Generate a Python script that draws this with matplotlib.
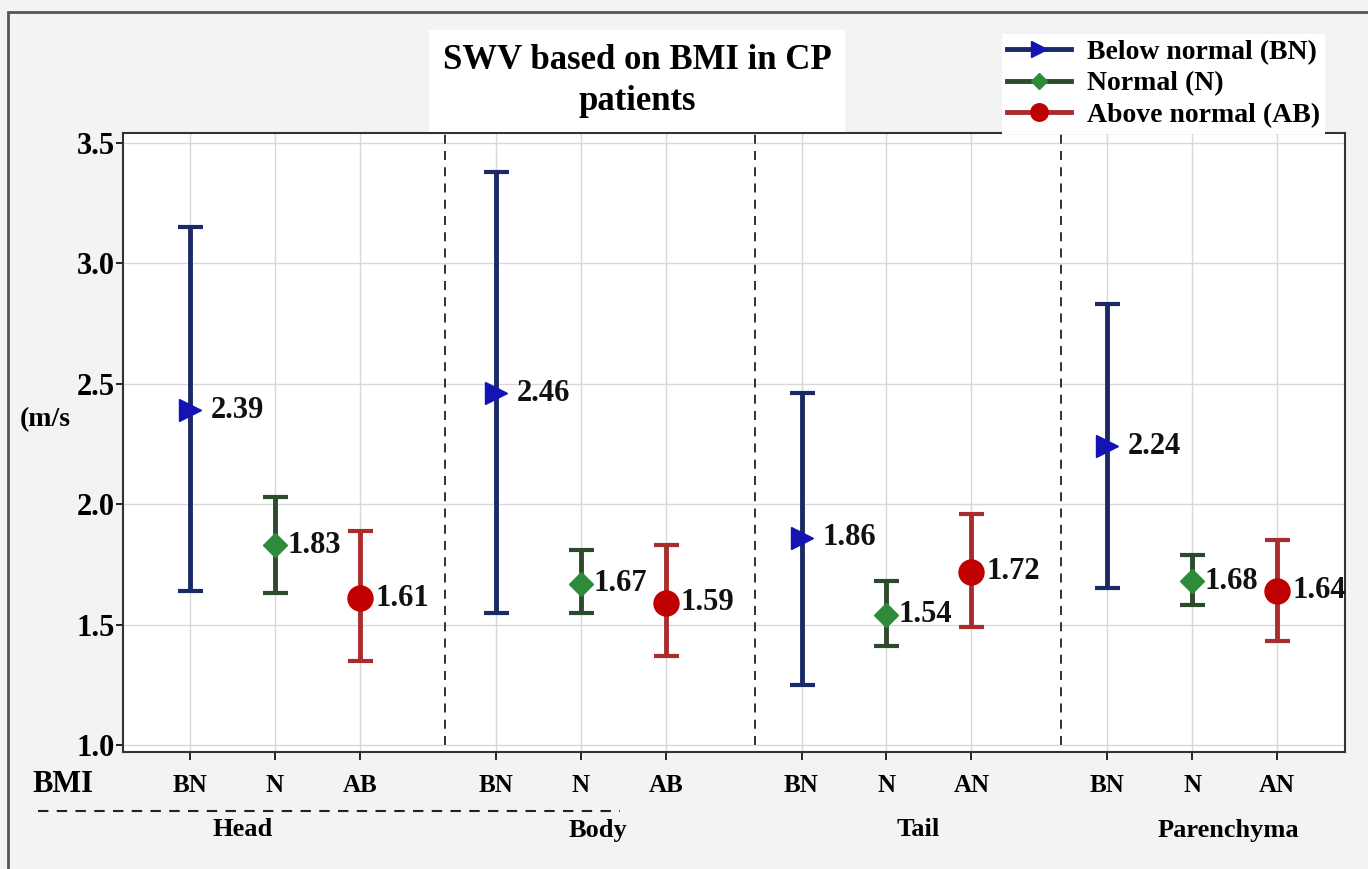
import matplotlib

matplotlib.use("Agg")
import matplotlib.pyplot as plt
from matplotlib.lines import Line2D
from matplotlib.patches import Rectangle

plt.rcParams["font.family"] = ["Liberation Serif", "DejaVu Serif"]
plt.rcParams["font.weight"] = "bold"

# data
regions = ["Head", "Body", "Tail", "Parenchyma"]
tick_labels = ["BN", "N", "AB", "BN", "N", "AB", "BN", "N", "AN", "BN", "N", "AN"]
positions = [0, 1, 2, 3.6, 4.6, 5.6, 7.2, 8.2, 9.2, 10.8, 11.8, 12.8]
separators = [3.0, 6.65, 10.26]

bn_mean = [2.39, 2.46, 1.86, 2.24]
bn_low = [1.64, 1.55, 1.25, 1.65]
bn_high = [3.15, 3.38, 2.46, 2.83]

n_mean = [1.83, 1.67, 1.54, 1.68]
n_low = [1.63, 1.55, 1.41, 1.58]
n_high = [2.03, 1.81, 1.68, 1.79]

ab_mean = [1.61, 1.59, 1.72, 1.64]
ab_low = [1.35, 1.37, 1.49, 1.43]
ab_high = [1.89, 1.83, 1.96, 1.85]

series = [
    ("Below normal (BN)", bn_mean, bn_low, bn_high, 0, "#1b2a66", "#1414b4", ">", 16, 15),
    ("Normal (N)", n_mean, n_low, n_high, 1, "#2c4a2c", "#2e8b3c", "D", 12, 9),
    ("Above normal (AB)", ab_mean, ab_low, ab_high, 2, "#aa2c2c", "#c00000", "o", 18, 11),
]

W, H = 1368, 869
fig = plt.figure(figsize=(W / 100, H / 100), dpi=100, facecolor="#f3f3f3")
ax = fig.add_axes([123 / W, 1 - 752 / H, (1345 - 123) / W, (752 - 133) / H])

for label, mean, low, high, slot, line_c, mark_c, marker, ms, off in series:
    xs = [positions[g * 3 + slot] for g in range(len(regions))]
    yerr = [[m - lo for m, lo in zip(mean, low)], [hi - m for m, hi in zip(mean, high)]]
    ax.errorbar(xs, mean, yerr=yerr, fmt="none", ecolor=line_c, elinewidth=3.5,
                capsize=9, capthick=3, zorder=3)
    ax.plot(xs, mean, linestyle="none", marker=marker, markersize=ms,
            color=mark_c, markeredgecolor=mark_c, zorder=4)
    for x, m in zip(xs, mean):
        ax.annotate(f"{m:.2f}", (x, m), xytext=(off, 0), textcoords="offset points",
                    ha="left", va="center", fontsize=22, fontweight="bold", color="#111111")

for s in separators:
    ax.plot([s, s], [1.0, 3.55], linestyle=(0, (5, 4)), color="#222222", linewidth=1.3,
            zorder=2)

ax.set_xlim(-0.79, 13.6)
ax.set_ylim(0.971, 3.5415)
ax.set_yticks([1.0, 1.5, 2.0, 2.5, 3.0, 3.5])
ax.set_yticklabels(["1.0", "1.5", "2.0", "2.5", "3.0", "3.5"])
ax.set_xticks(positions)
ax.set_xticklabels(tick_labels)
ax.tick_params(axis="y", labelsize=22, length=5, width=1.2, pad=1)
ax.tick_params(axis="x", labelsize=18, length=6, width=1.2, pad=10)
for t in ax.get_xticklabels() + ax.get_yticklabels():
    t.set_fontweight("bold")
ax.grid(True, color="#d8d8d8", linewidth=1)
ax.set_axisbelow(True)
for sp in ax.spines.values():
    sp.set_color("#333333")
    sp.set_linewidth(1.5)

fig.text(637 / W, 1 - 81 / H, "SWV based on BMI in CP\npatients", ha="center", va="center",
         fontsize=25, fontweight="bold", linespacing=1.3,
         bbox={"facecolor": "white", "edgecolor": "none", "pad": 10})

fig.text(20 / W, 1 - 420 / H, "(m/s", ha="left", va="center", fontsize=20, fontweight="bold")
fig.text(32 / W, 1 - 785 / H, "BMI", ha="left", va="center", fontsize=22, fontweight="bold")
fig.add_artist(Line2D([38 / W, 620 / W], [1 - 811 / H, 1 - 811 / H], linestyle=(0, (5, 4)),
                      color="#222222", linewidth=1.5))

for name, pos in zip(regions, [243, 598, 918, 1228]):
    fig.text(pos / W, 1 - 830 / H, name, ha="center", va="center", fontsize=19,
             fontweight="bold")

handles = [
    Line2D([], [], color=line_c, linewidth=3.5, marker=marker, markersize=ms * 0.7,
           markerfacecolor=mark_c, markeredgecolor=mark_c)
    for _, _, _, _, _, line_c, mark_c, marker, ms, _ in series
]
fig.legend(handles, [s[0] for s in series], loc="upper left",
           bbox_to_anchor=(988 / W, 1 - 20 / H), frameon=True, fancybox=False,
           facecolor="white", edgecolor="none", framealpha=1,
           prop={"weight": "bold", "size": 20}, handlelength=2.3, handletextpad=0.55,
           labelspacing=0.22, borderpad=0.2)

fig.add_artist(Rectangle((8 / W, -0.01), 1.0, 1 - 12 / H + 0.01, transform=fig.transFigure,
                         fill=False, edgecolor="#555555", linewidth=2))

fig.savefig("out.png", dpi=100, facecolor=fig.get_facecolor())
